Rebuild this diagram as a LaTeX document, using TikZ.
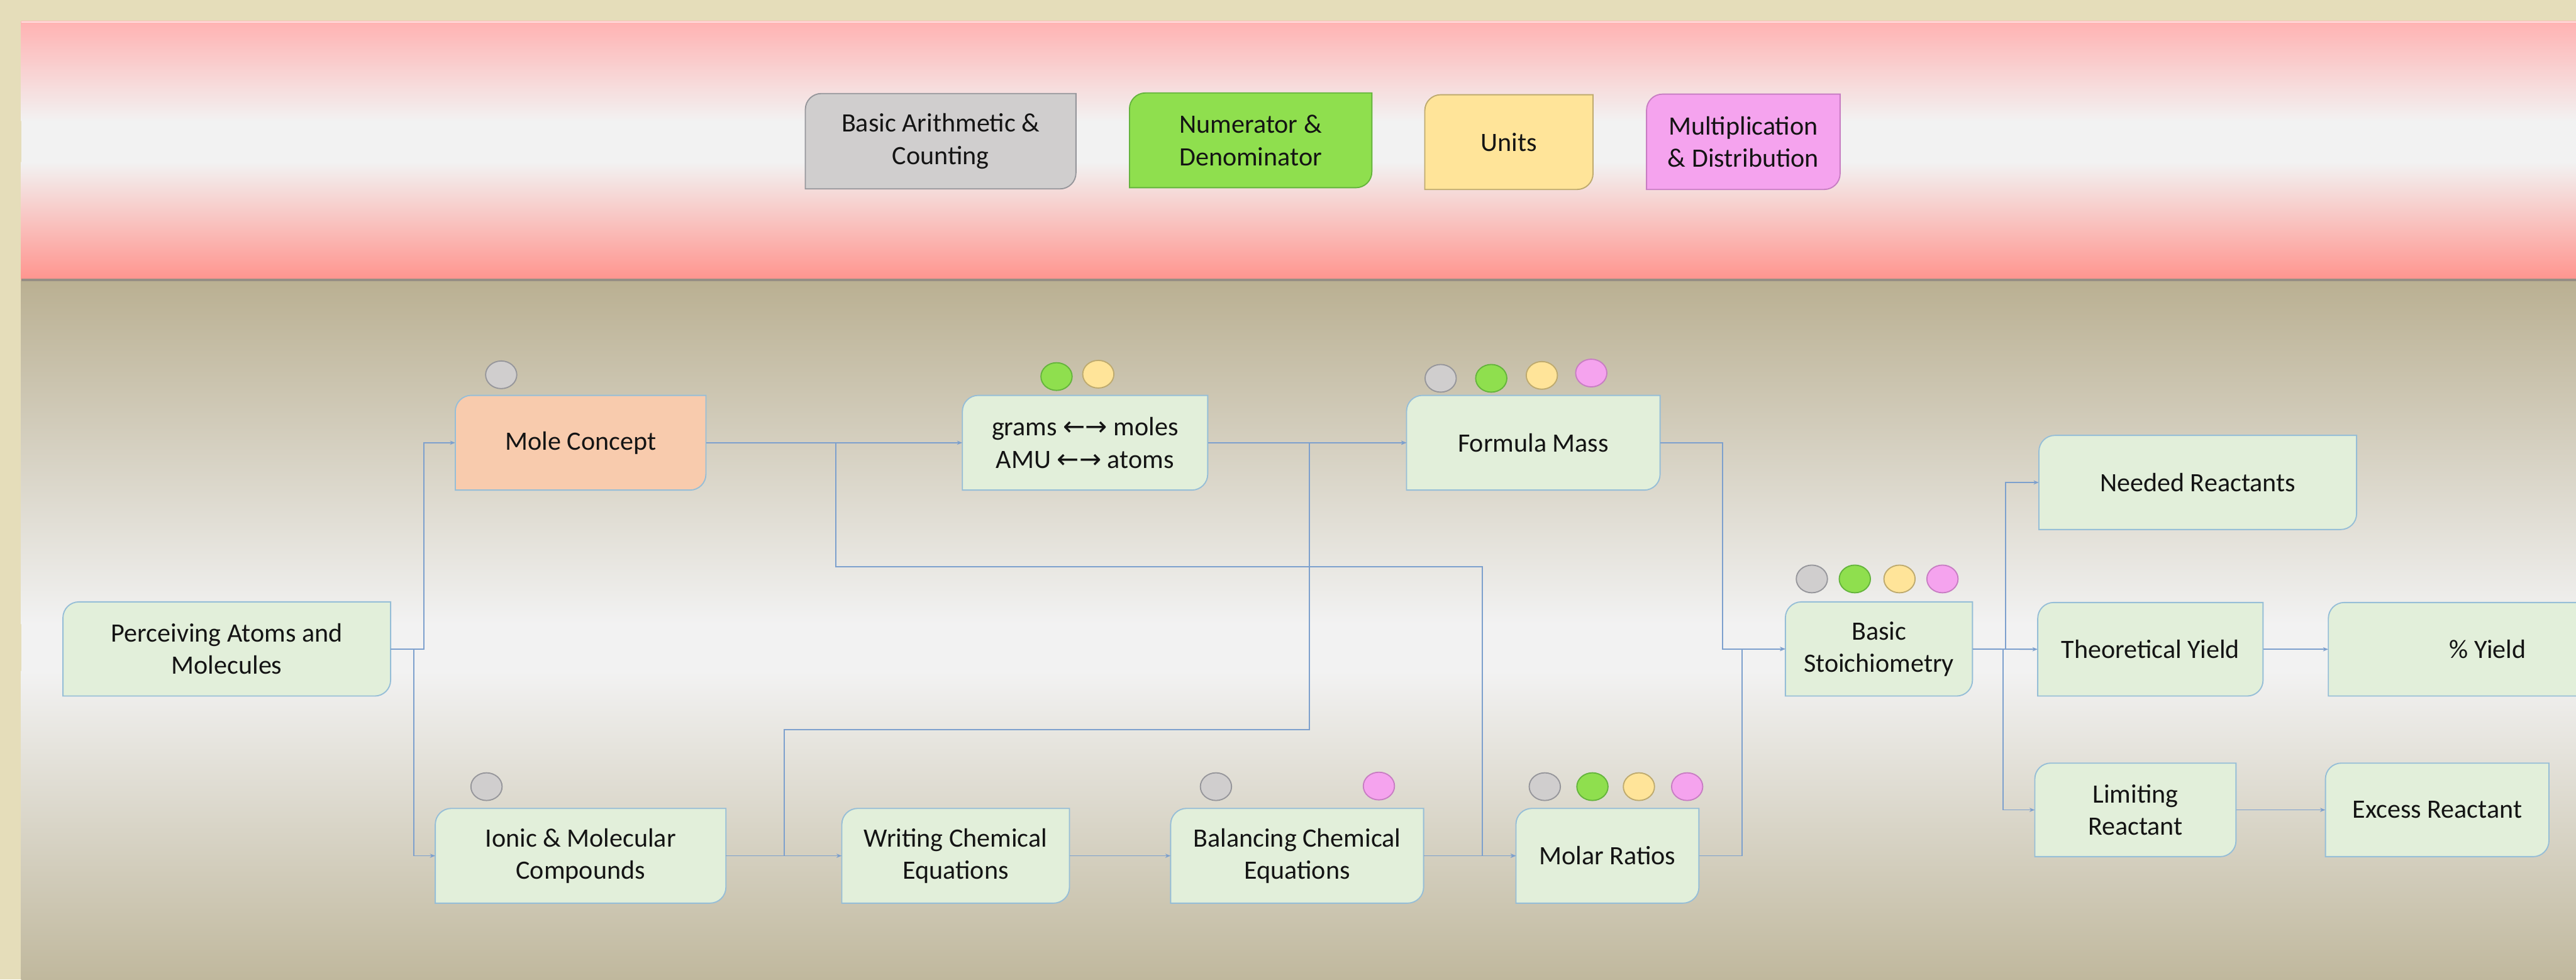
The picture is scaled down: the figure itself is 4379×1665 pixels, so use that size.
\documentclass[tikz,border=0pt]{standalone}
\usepackage{fontspec}
\setmainfont{Carlito}
\newfontfamily\arrfont{DejaVu Sans}
\usetikzlibrary{shapes.geometric,arrows.meta}

\definecolor{outerbg}{RGB}{229,221,186}
\definecolor{pinktop}{RGB}{255,178,178}
\definecolor{pinkbot}{RGB}{255,148,142}
\definecolor{whitebg}{RGB}{242,242,242}
\definecolor{tantop}{RGB}{186,176,146}
\definecolor{tanbot}{RGB}{192,184,157}
\definecolor{sepline}{RGB}{150,142,132}
\definecolor{boxfill}{RGB}{226,239,218}
\definecolor{boxline}{RGB}{150,190,215}
\definecolor{molefill}{RGB}{248,203,173}
\definecolor{grayc}{RGB}{208,206,206}
\definecolor{grayline}{RGB}{150,150,155}
\definecolor{greenc}{RGB}{143,223,78}
\definecolor{greenline}{RGB}{100,180,60}
\definecolor{yellowc}{RGB}{255,228,153}
\definecolor{yellowline}{RGB}{190,170,110}
\definecolor{pinkc}{RGB}{245,163,238}
\definecolor{pinkline}{RGB}{200,125,195}
\definecolor{connc}{RGB}{125,160,205}
\definecolor{txt}{RGB}{20,20,20}

\tikzset{
  boxtext/.style={align=center, inner sep=0pt, text=txt,
    font=\fontsize{45}{55}\selectfont},
  boxborder/.style={line width=2pt},
  conn/.style={draw=connc, line width=2pt, -{Stealth[length=9pt,width=7pt]}},
  dot/.style={ellipse, minimum width=53pt, minimum height=47pt, inner sep=0pt, line width=2pt},
}

% #1 border colour, #2 name, #3 x1, #4 y1, #5 x2, #6 y2, #7 fill, #8 text
\newcommand\cbox[8][boxline]{%
  \draw[boxborder, draw=#1, fill=#7] (#3,{#4+27}) arc[start angle=180,end angle=90,radius=27pt]
     -- (#5,#4) -- (#5,{#6-27}) arc[start angle=0,end angle=-90,radius=27pt]
     -- (#3,#6) -- cycle;
  \node[boxtext, minimum width={#5-#3}, minimum height={#6-#4}] (#2)
     at ({(#3+#5)/2},{(#4+#6)/2}) {#8};
}

\begin{document}
\begin{tikzpicture}[x=1pt, y=-1pt]
\useasboundingbox (0,0) rectangle (4379,1665);
\clip (0,0) rectangle (4379,1665);

% background
\fill[outerbg] (0,0) rectangle (4379,1665);
\shade[top color=pinktop, bottom color=whitebg] (36,36) rectangle (4379,206);
\fill[whitebg] (36,205) rectangle (4379,276);
\shade[top color=whitebg, bottom color=pinkbot] (36,275) rectangle (4379,476);
\draw[white!60!pinktop, line width=2pt] (36,37) -- (4379,37);
\shade[top color=tantop, bottom color=whitebg] (36,476) rectangle (4379,1061);
\fill[whitebg] (36,1060) rectangle (4379,1141);
\shade[top color=whitebg, bottom color=tanbot] (36,1140) rectangle (4379,1665);
\draw[sepline, line width=4pt] (36,476) -- (4379,476);

% legend
\cbox[grayline]{leg1}{1369}{159}{1829}{321}{grayc}{Basic Arithmetic \&\\Counting}
\cbox[greenline]{leg2}{1920}{158}{2332}{319}{greenc}{Numerator \&\\Denominator}
\cbox[yellowline]{leg3}{2422}{161}{2708}{322}{yellowc}{Units}
\cbox[pinkline]{leg4}{2799}{160}{3128}{322}{pinkc}{Multiplication\\\& Distribution}

% boxes
\cbox{perc}{107}{1023}{664}{1183}{boxfill}{Perceiving Atoms and\\Molecules}
\cbox{mole}{774}{672}{1200}{833}{molefill}{Mole Concept}
\cbox{grams}{1636}{672}{2053}{833}{boxfill}{grams {\arrfont ←→} moles\\AMU {\arrfont ←→} atoms}
\cbox{fm}{2391}{672}{2822}{833}{boxfill}{Formula Mass}
\cbox{ionic}{740}{1374}{1234}{1535}{boxfill}{Ionic \& Molecular\\Compounds}
\cbox{writing}{1431}{1374}{1818}{1535}{boxfill}{Writing Chemical\\Equations}
\cbox{bal}{1990}{1374}{2420}{1535}{boxfill}{Balancing Chemical\\Equations}
\cbox{molar}{2577}{1374}{2888}{1535}{boxfill}{Molar Ratios}
\cbox{bs}{3035}{1023}{3353}{1183}{boxfill}{Basic\\Stoichiometry}
\cbox{needed}{3466}{740}{4006}{900}{boxfill}{Needed Reactants}
\cbox{theo}{3464}{1024}{3847}{1183}{boxfill}{Theoretical Yield}
\cbox{pyield}{3958}{1024}{4500}{1183}{boxfill}{\% Yield}
\cbox{lim}{3459}{1297}{3801}{1456}{boxfill}{Limiting\\Reactant}
\cbox{excess}{3953}{1297}{4333}{1456}{boxfill}{Excess Reactant}

% prerequisite dots
\node[dot, fill=grayc, draw=grayline] (d1) at (852,637) {};
\node[dot, fill=greenc, draw=greenline] (d2) at (1796,640) {};
\node[dot, fill=yellowc, draw=yellowline] (d3) at (1867,636) {};
\node[dot, fill=grayc, draw=grayline] (d4) at (2449,643) {};
\node[dot, fill=greenc, draw=greenline] (d5) at (2535,643) {};
\node[dot, fill=yellowc, draw=yellowline] (d6) at (2621,638) {};
\node[dot, fill=pinkc, draw=pinkline] (d7) at (2705,634) {};
\node[dot, fill=grayc, draw=grayline] (d8) at (827,1337) {};
\node[dot, fill=grayc, draw=grayline] (d9) at (2067,1337) {};
\node[dot, fill=pinkc, draw=pinkline] (d10) at (2344,1336) {};
\node[dot, fill=grayc, draw=grayline] (d11) at (2626,1337) {};
\node[dot, fill=greenc, draw=greenline] (d12) at (2707,1337) {};
\node[dot, fill=yellowc, draw=yellowline] (d13) at (2786,1337) {};
\node[dot, fill=pinkc, draw=pinkline] (d14) at (2868,1337) {};
\node[dot, fill=grayc, draw=grayline] (d15) at (3080,984) {};
\node[dot, fill=greenc, draw=greenline] (d16) at (3153,984) {};
\node[dot, fill=yellowc, draw=yellowline] (d17) at (3229,984) {};
\node[dot, fill=pinkc, draw=pinkline] (d18) at (3302,984) {};

% connectors
\coordinate (j1) at (1421,963);
\coordinate (j2) at (2520,963);
\coordinate (k1) at (1333,1240);
\coordinate (k2) at (2226,1240);
\draw[conn] (perc.east) -- ++(56,0) |- (mole.west);
\draw[conn] (perc.east) -- ++(39,0) |- (ionic.west);
\draw[conn] (mole.east) -- (grams.west);
\draw[conn] (mole.east) -| (j1) -- (j2) |- (molar.west);
\draw[conn] (grams.east) -- (fm.west);
\draw[conn] (ionic.east) -| (k1) -- (k2) |- (fm.west);
\draw[conn] (ionic.east) -- (writing.west);
\draw[conn] (writing.east) -- (bal.west);
\draw[conn] (bal.east) -- (molar.west);
\draw[conn] (fm.east) -- ++(106,0) |- (bs.west);
\draw[conn] (molar.east) -- ++(73,0) |- (bs.west);
\draw[conn] (bs.east) -- ++(56,0) |- (needed.west);
\draw[conn] (bs.east) -- (theo.west);
\draw[conn] (bs.east) -- ++(52,0) |- (lim.west);
\draw[conn] (theo.east) -- (pyield.west);
\draw[conn] (lim.east) -- (excess.west);
\end{tikzpicture}
\end{document}
